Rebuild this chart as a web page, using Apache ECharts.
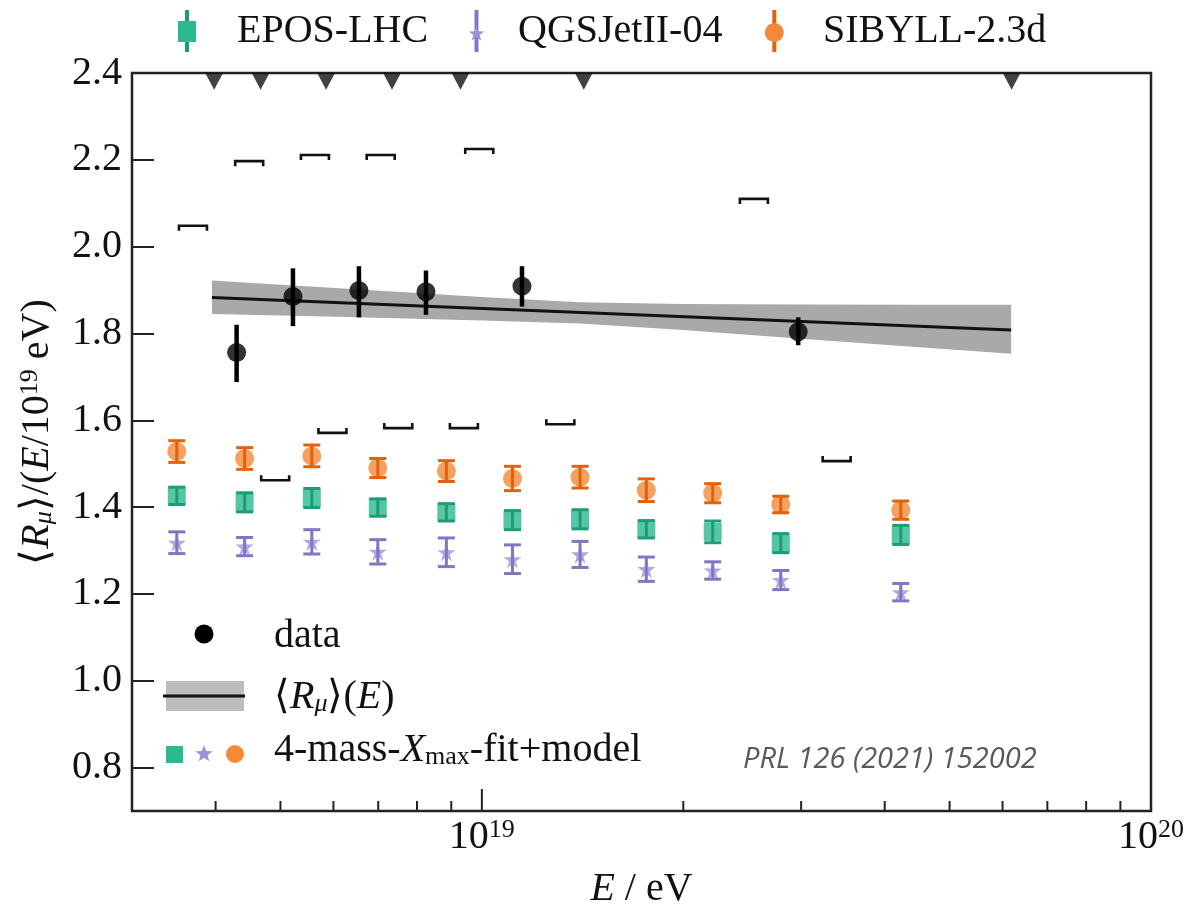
<!DOCTYPE html>
<html>
<head>
<meta charset="utf-8">
<title>Rmu vs E</title>
<script src="https://cdn.jsdelivr.net/npm/echarts@6/dist/echarts.min.js"></script>
<style>
html, body { margin: 0; padding: 0; background: #fff; }
#main { width: 1188px; height: 905px; }
</style>
</head>
<body>
<div id="main"></div>
<script>
// ---- data (energies in eV) ----
var modelE   = [3.50e18, 4.42e18, 5.57e18, 6.99e18, 8.85e18, 1.111e19, 1.402e19, 1.761e19, 2.213e19, 2.797e19, 4.227e19];
var eposVal  = [1.426, 1.411, 1.421, 1.399, 1.388, 1.370, 1.372, 1.349, 1.343, 1.317, 1.336];
var eposErr  = [0.020, 0.022, 0.022, 0.020, 0.020, 0.022, 0.022, 0.020, 0.025, 0.022, 0.022];
var qgsVal   = [1.318, 1.309, 1.320, 1.297, 1.296, 1.280, 1.291, 1.257, 1.254, 1.232, 1.204];
var qgsErr   = [0.025, 0.021, 0.028, 0.028, 0.033, 0.033, 0.030, 0.028, 0.020, 0.022, 0.020];
var sibVal   = [1.528, 1.512, 1.518, 1.490, 1.483, 1.466, 1.469, 1.439, 1.432, 1.406, 1.393];
var sibErr   = [0.025, 0.025, 0.025, 0.022, 0.024, 0.028, 0.025, 0.026, 0.022, 0.019, 0.021];

var dataE    = [4.30e18, 5.22e18, 6.55e18, 8.25e18, 1.148e19, 2.97e19];
var dataVal  = [1.756, 1.885, 1.899, 1.896, 1.909, 1.804];
var dataHi   = [1.820, 1.950, 1.955, 1.945, 1.955, 1.837];
var dataLo   = [1.688, 1.817, 1.837, 1.843, 1.862, 1.773];

// systematic brackets
var sysUpE   = [3.70e18, 4.49e18, 5.63e18, 7.06e18, 9.91e18, 2.55e19];
var sysUpVal = [2.048, 2.197, 2.211, 2.211, 2.225, 2.110];
var sysLoE   = [4.91e18, 5.98e18, 7.50e18, 9.40e18, 1.31e19, 3.39e19];
var sysLoVal = [1.462, 1.571, 1.582, 1.582, 1.591, 1.506];

// fit and its band
var fitE     = [3.95e18, 6.18e19];
var fitVal   = [1.883, 1.808];
var bandE    = [3.95e18, 6.3e18, 1.0e19, 1.4e19, 2.0e19, 3.0e19, 4.5e19, 6.18e19];
var bandHi   = [1.922, 1.903, 1.884, 1.872, 1.868, 1.867, 1.866, 1.866];
var bandLo   = [1.845, 1.838, 1.830, 1.823, 1.808, 1.788, 1.768, 1.753];

// bin edge markers on top
var edgeE    = [3.98e18, 4.67e18, 5.85e18, 7.34e18, 9.29e18, 1.42e19, 6.19e19];
var edgeVal  = [2.381, 2.381, 2.381, 2.381, 2.381, 2.381, 2.381];

// axes
var yTicks   = [0.8, 1.0, 1.2, 1.4, 1.6, 1.8, 2.0, 2.2, 2.4];
var xTicks   = [4e18, 5e18, 6e18, 7e18, 8e18, 9e18, 1e19, 2e19, 3e19, 4e19, 5e19, 6e19, 7e19, 8e19, 9e19, 1e20];
var xLabelE  = [1e19, 1e20];
var xLabelExp = ['19', '20'];

var serif = 'Liberation Serif';
var ink = '#111';
var green = '#2bb98f', greenDark = '#1b9e77';
var purple = '#9c92d6', purpleDark = '#7f76c4';
var orange = '#f28a3a', orangeDark = '#e2620c';
var starPath = 'path://M50,0 L61,35 L98,35 L68,57 L79,91 L50,70 L21,91 L32,57 L2,35 L39,35 Z';

function zip2(a, b) { return a.map(function (v, i) { return [v, b[i]]; }); }
function zip3(a, b, c) { return a.map(function (v, i) { return [v, b[i], c[i]]; }); }

function errBarSeries(name, E, val, err, color) {
  return {
    type: 'custom', name: name + ' err', silent: true, z: 4,
    data: zip3(E, val, err),
    renderItem: function (params, api) {
      var x = api.value(0), v = api.value(1), e = api.value(2);
      var top = api.coord([x, v + e]), bot = api.coord([x, v - e]);
      var w = 8.5;
      var st = { stroke: color, lineWidth: 3 };
      return { type: 'group', children: [
        { type: 'line', shape: { x1: top[0], y1: top[1], x2: bot[0], y2: bot[1] }, style: st },
        { type: 'line', shape: { x1: top[0] - w, y1: top[1], x2: top[0] + w, y2: top[1] }, style: st },
        { type: 'line', shape: { x1: bot[0] - w, y1: bot[1], x2: bot[0] + w, y2: bot[1] }, style: st }
      ] };
    }
  };
}

function bracketSeries(E, val, dir) {
  return {
    type: 'custom', silent: true, z: 5,
    data: zip2(E, val),
    renderItem: function (params, api) {
      var p = api.coord([api.value(0), api.value(1)]);
      var w = 14, h = 5 * dir;
      return { type: 'polyline', shape: { points: [[p[0] - w, p[1] + h], [p[0] - w, p[1]], [p[0] + w, p[1]], [p[0] + w, p[1] + h]] },
        style: { stroke: ink, lineWidth: 2.6, fill: null } };
    }
  };
}

function starPoints(cx, cy, r) {
  var pts = [];
  for (var i = 0; i < 10; i++) {
    var a = -Math.PI / 2 + i * Math.PI / 5;
    var rr = i % 2 === 0 ? r : r * 0.42;
    pts.push([cx + rr * Math.cos(a), cy + rr * Math.sin(a)]);
  }
  return pts;
}

function label(x, y, text, rich, size) {
  var st = { text: text, fontFamily: serif, fontSize: size || 40, fill: ink, align: 'left', verticalAlign: 'middle' };
  if (rich) st.rich = rich;
  return { type: 'text', x: x, y: y, style: st };
}

var richLeg = {
  i: { fontFamily: serif, fontSize: 40, fontStyle: 'italic', lineHeight: 40 },
  sub: { fontFamily: serif, fontSize: 26, fontStyle: 'italic', lineHeight: 18, verticalAlign: 'bottom' },
  subr: { fontFamily: serif, fontSize: 26, lineHeight: 16, verticalAlign: 'bottom' }
};
var richTitle = {
  i: { fontFamily: serif, fontSize: 40, fontStyle: 'italic', lineHeight: 40 },
  sub: { fontFamily: serif, fontSize: 26, fontStyle: 'italic', lineHeight: 18, verticalAlign: 'bottom' },
  sup: { fontFamily: serif, fontSize: 26, lineHeight: 20, verticalAlign: 'top' }
};

var chart = echarts.init(document.getElementById('main'), null, { renderer: 'canvas' });

var option = {
  animation: false,
  backgroundColor: '#fff',
  grid: { left: 132, right: 37, top: 73, bottom: 94, containLabel: false, outerBoundsMode: 'none',
    show: true, borderColor: '#222', borderWidth: 2.5, backgroundColor: 'transparent' },
  xAxis: {
    type: 'log', logBase: 10, min: 3e18, max: 1e20,
    axisLine: { show: false }, axisTick: { show: false }, axisLabel: { show: false }, splitLine: { show: false },
    name: '{i|E} / eV', nameLocation: 'middle', nameGap: 58,
    nameTextStyle: { fontFamily: serif, fontSize: 40, color: ink, rich: { i: { fontFamily: serif, fontSize: 40, fontStyle: 'italic', color: ink } } }
  },
  yAxis: {
    type: 'value', min: 0.7, max: 2.4,
    axisLine: { show: false }, splitLine: { show: false },
    axisTick: { show: true, inside: true, length: 22, customValues: yTicks, lineStyle: { color: '#222', width: 2 } },
    axisLabel: { customValues: yTicks, margin: 10, fontFamily: serif, fontSize: 40, color: ink, formatter: function (v) { return v.toFixed(1); } }
  },
  series: [
    // fit band
    {
      type: 'custom', silent: true, z: 1, data: [[bandE[0], bandLo[0]]],
      renderItem: function (params, api) {
        var pts = [];
        for (var i = 0; i < bandE.length; i++) pts.push(api.coord([bandE[i], bandHi[i]]));
        for (var j = bandE.length - 1; j >= 0; j--) pts.push(api.coord([bandE[j], bandLo[j]]));
        return { type: 'polygon', shape: { points: pts }, style: { fill: '#a9a9a9', stroke: null } };
      }
    },
    // fit line
    { type: 'line', silent: true, z: 2, data: zip2(fitE, fitVal), symbol: 'none', lineStyle: { color: ink, width: 3 } },
    // x ticks
    {
      type: 'custom', silent: true, clip: false, z: 6, data: xTicks.map(function (v) { return [v, 0.7]; }),
      renderItem: function (params, api) {
        var v = api.value(0);
        var p = api.coord([v, api.value(1)]);
        var lg = Math.log10(v);
        var len = Math.abs(lg - Math.round(lg)) < 1e-6 ? 22 : 10;
        return { type: 'line', shape: { x1: p[0], y1: p[1], x2: p[0], y2: p[1] - len }, style: { stroke: '#222', lineWidth: 2 } };
      }
    },
    // x labels
    {
      type: 'custom', silent: true, clip: false, z: 6, data: xLabelE.map(function (v, i) { return [v, 0.7, i]; }),
      renderItem: function (params, api) {
        var p = api.coord([api.value(0), api.value(1)]);
        return { type: 'text', x: p[0], y: p[1] + 6, style: {
          text: '{b|10}{s|' + xLabelExp[api.value(2)] + '}', align: 'center', verticalAlign: 'top',
          rich: { b: { fontFamily: serif, fontSize: 40, lineHeight: 40, fill: ink },
                  s: { fontFamily: serif, fontSize: 26, lineHeight: 20, verticalAlign: 'top', fill: ink } } } };
      }
    },
    // bin edges
    { type: 'scatter', silent: true, z: 6, data: zip2(edgeE, edgeVal), symbol: 'triangle', symbolRotate: 180, symbolSize: [18, 17], itemStyle: { color: ink } },
    // systematics
    bracketSeries(sysUpE, sysUpVal, 1),
    bracketSeries(sysLoE, sysLoVal, -1),
    // models
    { type: 'scatter', name: 'EPOS-LHC', silent: true, z: 3, data: zip2(modelE, eposVal), symbol: 'rect', symbolSize: 18, itemStyle: { color: green } },
    { type: 'scatter', name: 'QGSJetII-04', silent: true, z: 3, data: zip2(modelE, qgsVal), symbol: starPath, symbolSize: 18, itemStyle: { color: purple } },
    { type: 'scatter', name: 'SIBYLL-2.3d', silent: true, z: 3, data: zip2(modelE, sibVal), symbol: 'circle', symbolSize: 19, itemStyle: { color: orange } },
    errBarSeries('EPOS-LHC', modelE, eposVal, eposErr, greenDark),
    errBarSeries('QGSJetII-04', modelE, qgsVal, qgsErr, purpleDark),
    errBarSeries('SIBYLL-2.3d', modelE, sibVal, sibErr, orangeDark),
    // data
    {
      type: 'custom', silent: true, z: 7, data: zip3(dataE, dataLo, dataHi),
      renderItem: function (params, api) {
        var a = api.coord([api.value(0), api.value(1)]), b = api.coord([api.value(0), api.value(2)]);
        return { type: 'line', shape: { x1: a[0], y1: a[1], x2: b[0], y2: b[1] }, style: { stroke: '#000', lineWidth: 4.5 } };
      }
    },
    { type: 'scatter', name: 'data', silent: true, z: 8, data: zip2(dataE, dataVal), symbol: 'circle', symbolSize: 19, itemStyle: { color: '#000' } }
  ],
  graphic: [
    // y axis title
    { type: 'text', x: 37, y: 432, rotation: Math.PI / 2, style: {
      text: '\u27e8{i|R}{sub|\u03bc}\u27e9/({i|E}/10{sup|19} eV)', fontFamily: serif, fontSize: 40, fill: ink,
      align: 'center', verticalAlign: 'middle', rich: richTitle } },
    // top legend
    { type: 'rect', shape: { x: 185, y: 10, width: 4, height: 42 }, style: { fill: greenDark } },
    { type: 'rect', shape: { x: 178, y: 21, width: 18, height: 21 }, style: { fill: green } },
    label(237, 31, 'EPOS-LHC'),
    { type: 'rect', shape: { x: 474.5, y: 10, width: 4, height: 42 }, style: { fill: purpleDark } },
    { type: 'polygon', shape: { points: starPoints(476.5, 34, 8) }, style: { fill: purple } },
    label(518, 31, 'QGSJetII-04'),
    { type: 'rect', shape: { x: 772.3, y: 10, width: 4, height: 42 }, style: { fill: orangeDark } },
    { type: 'circle', shape: { cx: 774.3, cy: 32.5, r: 9.5 }, style: { fill: orange } },
    label(823, 31, 'SIBYLL-2.3d'),
    // inner legend
    { type: 'circle', shape: { cx: 204, cy: 634, r: 9.5 }, style: { fill: '#000' } },
    label(274, 636, 'data'),
    { type: 'rect', shape: { x: 166, y: 681, width: 78, height: 30 }, style: { fill: '#bdbdbd' } },
    { type: 'line', shape: { x1: 163, y1: 696, x2: 245, y2: 696 }, style: { stroke: ink, lineWidth: 3 } },
    label(274, 697, '\u27e8{i|R}{sub|\u03bc}\u27e9({i|E})', richLeg),
    { type: 'rect', shape: { x: 166, y: 746, width: 17, height: 17 }, style: { fill: green } },
    { type: 'polygon', shape: { points: starPoints(204, 754, 9) }, style: { fill: purple } },
    { type: 'circle', shape: { cx: 235, cy: 754, r: 9 }, style: { fill: orange } },
    label(274, 750, '4-mass-{i|X}{subr|max}-fit+model', richLeg),
    // reference note
    { type: 'text', x: 743, y: 760, style: { text: 'PRL 126 (2021) 152002', fontFamily: 'Open Sans', fontStyle: 'italic', fontSize: 29, fill: '#595959', align: 'left', verticalAlign: 'middle' } }
  ]
};

chart.setOption(option);
</script>
</body>
</html>
